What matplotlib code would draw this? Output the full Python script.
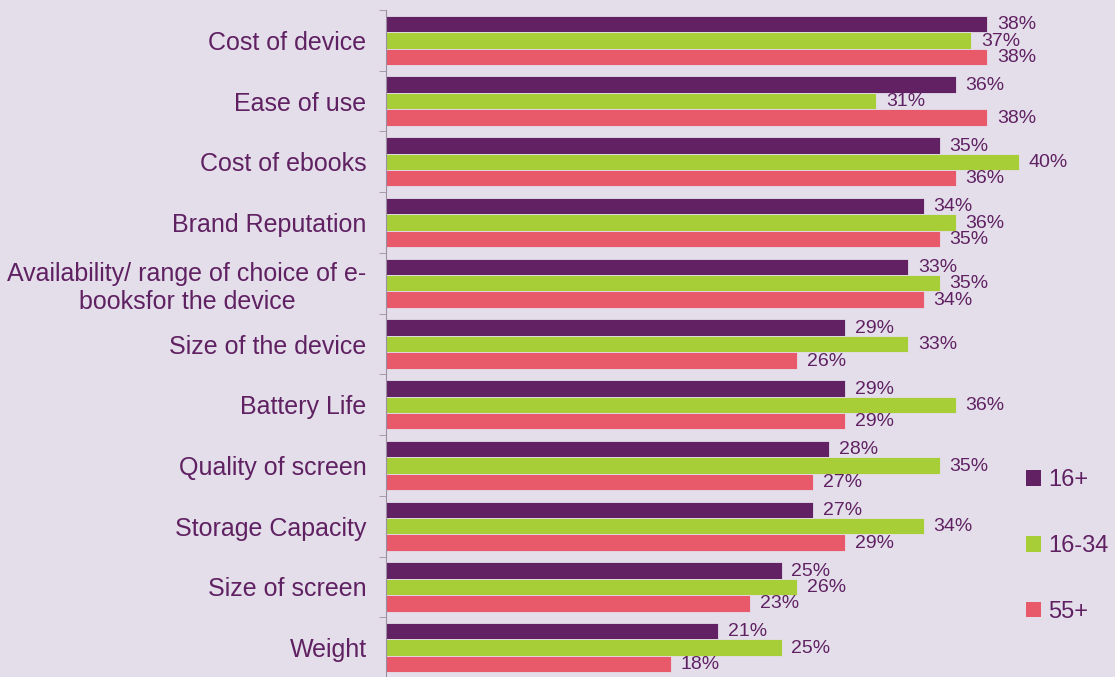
import matplotlib
matplotlib.use('Agg')
import matplotlib.pyplot as plt
from matplotlib.patches import Patch
import numpy as np

# survey data: share of respondents rating each factor as important
categories = ['Cost of device', 'Ease of use', 'Cost of ebooks', 'Brand Reputation',
              'Availability/ range of choice of e-\nbooksfor the device',
              'Size of the device', 'Battery Life', 'Quality of screen',
              'Storage Capacity', 'Size of screen', 'Weight']
all_16plus = [38, 36, 35, 34, 33, 29, 29, 28, 27, 25, 21]
age_16_34 = [37, 31, 40, 36, 35, 33, 36, 35, 34, 26, 25]
age_55plus = [38, 38, 36, 35, 34, 26, 29, 27, 29, 23, 18]
series_names = ['16+', '16-34', '55+']

BG = '#E4DEEB'
TXT = '#5F2161'
colors = ['#622162', '#A8CE37', '#E85A6A']

plt.rcParams['font.family'] = ['Liberation Sans', 'DejaVu Sans']

fig = plt.figure(figsize=(11.15, 6.77), dpi=100, facecolor=BG)
ax = fig.add_axes([386 / 1115, -1 / 677, 1 - 386 / 1115, 668 / 677])
ax.set_facecolor(BG)

y = np.arange(len(categories))
h = 0.27
for i, vals in enumerate([all_16plus, age_16_34, age_55plus]):
    pos = y + (i - 1) * h
    ax.barh(pos, vals, height=h, color=colors[i], edgecolor=BG, linewidth=0.6)
    for p, v in zip(pos, vals):
        ax.annotate(f'{v}%', (v, p), xytext=(7, -0.5), textcoords='offset points',
                    va='center', ha='left', fontsize=14, color=TXT)

ax.set_xlim(0, (1115 - 386) / 15.82)
ax.set_ylim(len(categories) - 0.5, -0.5)
ax.set_xticks([])
ax.set_yticks(y)
ax.set_yticklabels(categories, fontsize=18, color=TXT, linespacing=1.2)
for lbl in ax.get_yticklabels():
    lbl.set_multialignment('center')
ax.tick_params(axis='y', which='major', length=0, pad=14)
ax.set_yticks(np.arange(len(categories) + 1) - 0.5, minor=True)
ax.tick_params(axis='y', which='minor', length=5, color='#9C8EA2', direction='out')
for s in ['top', 'right', 'bottom']:
    ax.spines[s].set_visible(False)
ax.spines['left'].set_color('#9C8EA2')

handles = [Patch(facecolor=c, edgecolor='none') for c in colors]
leg = fig.legend(handles, series_names, loc='center left',
                 bbox_to_anchor=(1026 / 1115, 1 - 546 / 677),
                 frameon=False, fontsize=17, handlelength=0.65, handleheight=0.65,
                 handletextpad=0.3, labelspacing=1.85, borderaxespad=0, borderpad=0)
for t in leg.get_texts():
    t.set_color(TXT)

fig.savefig('out.png', dpi=100, facecolor=BG)
